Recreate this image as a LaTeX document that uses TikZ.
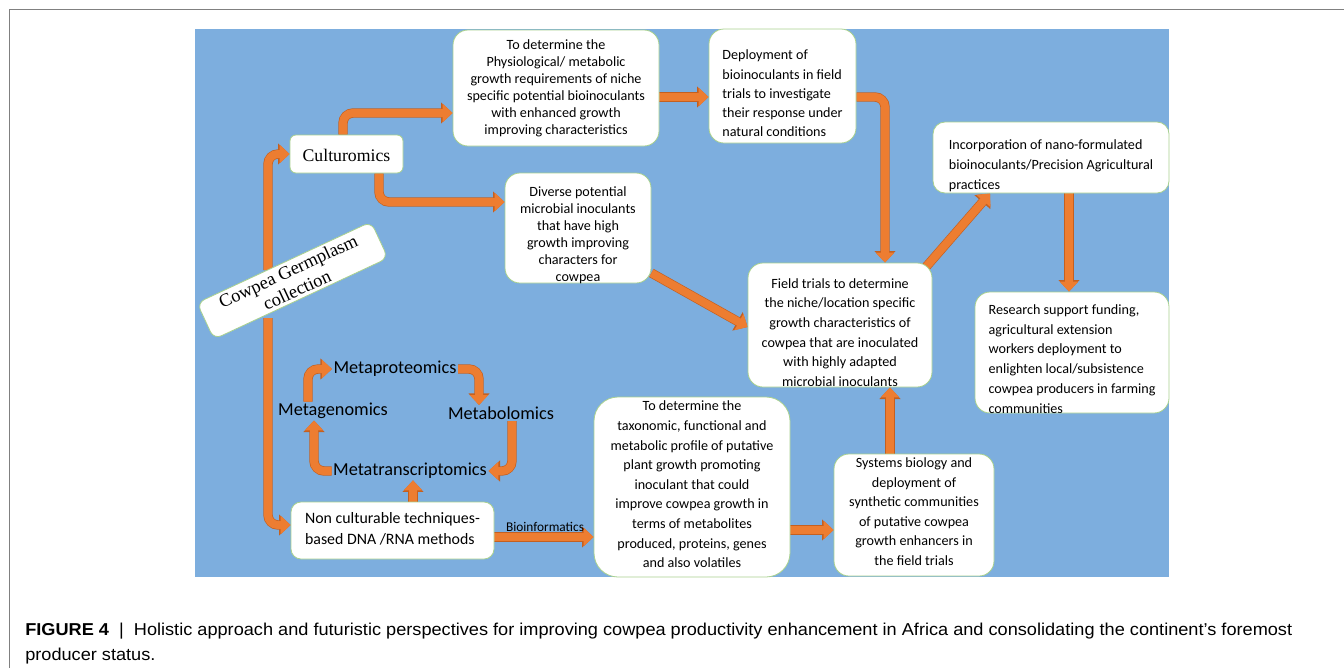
\documentclass[tikz,border=0pt]{standalone}
\usepackage{graphicx}
\usepackage{fontspec}
\setmainfont{Carlito}
\newfontfamily\serifx{Liberation Serif}
\newfontfamily\capfont{Liberation Sans}
\usetikzlibrary{arrows.meta,fit,backgrounds}
\definecolor{panelblue}{RGB}{125,174,222}
\definecolor{arrorange}{RGB}{237,125,49}
\definecolor{arrdark}{RGB}{196,96,32}
\definecolor{boxedge}{RGB}{169,209,142}
\definecolor{framegray}{RGB}{128,128,128}
\newsavebox\caponebox
\newlength\caponew
\tikzset{
  box/.style={draw=boxedge, line width=0.6pt, fill=white, rounded corners=11.25pt, inner sep=0pt},
  boxtxt/.style={inner sep=0pt, align=center, font=\fontsize{10.6}{14.7}\selectfont},
  conn/.style={draw=arrorange, line width=6pt, rounded corners=7.5pt,
    -{Triangle[width=13.5pt,length=7.5pt]},
    preaction={draw=arrdark, line width=7pt, -{Triangle[width=15.3pt,length=8.7pt]}}},
  metatext/.style={font=\fontsize{13.7}{16}\selectfont, inner sep=1pt},
  lbltext/.style={font=\fontsize{10}{12}\selectfont, inner sep=0pt},
  captext/.style={inner sep=0pt, anchor=base west}
}
\begin{document}
\sbox\caponebox{\capfont\fontsize{12.9}{15}\selectfont\textbf{FIGURE 4}\ \ \textbar\ \ Holistic approach and futuristic perspectives for improving cowpea productivity enhancement in Africa and consolidating the continent’s foremost}%
\setlength\caponew{\wd\caponebox}%
\pgfmathsetmacro\capsx{950.25/\caponew}%
\begin{tikzpicture}[x=0.75pt,y=-0.75pt]
\useasboundingbox (0,0) rectangle (1344,668);
\begin{scope}[on background layer]
  \fill[panelblue] (195,29) rectangle (1169,577);
\end{scope}
\draw[framegray, line width=1pt] (9.5,668) -- (9.5,9.5) -- (1344,9.5);

% boxes
\node[box, rounded corners=4.5pt, fit={(290,135)(403,173)}] (cult) {};
\node[boxtxt, font=\serifx\fontsize{13.3}{15}\selectfont] (culttxt) at ([yshift=-0.9pt]cult.center) {Culturomics};

\node[box, fit={(453,30)(659,146)}] (phys) {};
\node[boxtxt, font=\fontsize{10.6}{12.75}\selectfont] (phystxt) at ([yshift=-0.4pt]phys.center)
  {To determine the\\Physiological/ metabolic\\growth requirements of niche\\specific potential bioinoculants\\with enhanced growth\\improving characteristics};

\node[box, fit={(709,29)(856,143)}] (deploy) {};
\node[boxtxt, align=left, font=\fontsize{10.6}{14.4}\selectfont] (deploytxt) at ([yshift=-5.6pt]deploy.center)
  {Deployment of\\bioinoculants in field\\trials to investigate\\their response under\\natural conditions};

\node[box, rounded corners=9pt, fit={(933,122)(1169,193)}] (incorp) {};
\node[boxtxt, align=left, font=\fontsize{10.6}{15}\selectfont] (incorptxt) at ([yshift=-6.4pt]incorp.center)
  {Incorporation of nano-formulated\\bioinoculants/Precision Agricultural\\practices};

\node[box, fit={(505,173)(651,283)}] (diverse) {};
\node[boxtxt, font=\fontsize{10.6}{12.75}\selectfont] (diversetxt) at ([yshift=-5.6pt]diverse.center)
  {Diverse potential\\microbial inoculants\\that have high\\growth improving\\characters for\\cowpea};

\node[box, fit={(748,263)(932,387)}] (field) {};
\node[boxtxt] (fieldtxt) at ([yshift=-5.6pt]field.center)
  {Field trials to determine\\the niche/location specific\\growth characteristics of\\cowpea that are inoculated\\with highly adapted\\microbial inoculants};

\node[box, fit={(975,292)(1169,413)}] (research) {};
\node[boxtxt, align=left, font=\fontsize{10.6}{14.85}\selectfont] (researchtxt) at ([yshift=-4.9pt]research.center)
  {Research support funding,\\agricultural extension\\workers deployment to\\enlighten local/subsistence\\cowpea producers in farming\\communities};

\node[box, rounded corners=18pt, fit={(594,397)(790,577)}] (taxo) {};
\node[boxtxt] (taxotxt) at ([yshift=1.9pt]taxo.center)
  {To determine the\\taxonomic, functional and\\metabolic profile of putative\\plant growth promoting\\inoculant that could\\improve cowpea growth in\\terms of metabolites\\produced, proteins, genes\\and also volatiles};

\node[box, fit={(834,454)(994,576)}] (systems) {};
\node[boxtxt] (systemstxt) at ([yshift=2.6pt]systems.center)
  {Systems biology and\\deployment of\\synthetic communities\\of putative cowpea\\growth enhancers in\\the field trials};

\node[box, rounded corners=7.5pt, fit={(291,502)(494,559)}] (noncult) {};
\node[boxtxt, align=left, font=\fontsize{11.9}{15.75}\selectfont] (nonculttxt) at ([yshift=1.1pt]noncult.center)
  {Non culturable techniques-\\based DNA /RNA methods};

\node[box, rotate=25, rounded corners=6pt, minimum width=144pt, minimum height=30pt,
  align=center, font=\serifx\fontsize{13.8}{15.5}\selectfont] (germ) at (292.5,280.5) {Cowpea Germplasm\\collection};

% omics cycle labels
\node[metatext] (mprot) at (395,369) {Metaproteomics};
\node[metatext] (mgen) at (333,411) {Metagenomics};
\node[metatext] (mbol) at (501,413) {Metabolomics};
\node[metatext] (mtrans) at (410,471) {Metatranscriptomics};

\coordinate (gtop) at (268,270);
\coordinate (gbot) at (268,318);

\begin{scope}[on background layer]
  \draw[conn] (gtop) |- (cult.west);
  \draw[conn] (gbot) |- (noncult.west |- 0,525);
  \draw[conn] (cult.north -| 343,0) |- (phys.west |- 0,113);
  \draw[conn] (cult.south -| 379,0) |- (diverse.west |- 0,202);
  \draw[conn] (phys.east |- 0,97) -- (deploy.west |- 0,97);
  \draw[conn] (deploy.east |- 0,97) -| (field.north -| 885,0);
  \draw[conn] (diverse.east |- 0,273) -- (field.west |- 0,327);
  \draw[conn] ([shift={(-7,5)}]field.north east) -- (incorp.south -| 990,0);
  \draw[conn] (incorp.south -| 1069,0) -- (research.north -| 1069,0);
  \draw[conn] (systems.north -| 890,0) -- (field.south -| 890,0);
  \draw[conn] (taxo.east |- 0,530) -- (systems.west |- 0,530);
  \draw[conn] (noncult.east |- 0,537) -- (taxo.west |- 0,537);
  \draw[conn] (noncult.north -| 413,0) -- (mtrans.south -| 413,0);
  \draw[conn] (mgen.north -| 308,0) |- (mprot.west);
  \draw[conn] (mprot.east) -| (mbol.north -| 479,0);
  \draw[conn] (mbol.south -| 512,0) |- (mtrans.east);
  \draw[conn] (mtrans.west) -| (mgen.south -| 314,0);
\end{scope}

\node[lbltext, anchor=base] (bioinf) at (545,531) {Bioinformatics};

% caption
\node[captext] (cap1) at (25,635) {\scalebox{\capsx}[1]{\usebox\caponebox}};
\node[captext] (cap2) at (25,660) {\scalebox{\capsx}[1]{\capfont\fontsize{12.9}{15}\selectfont producer status.}};
\end{tikzpicture}
\end{document}
